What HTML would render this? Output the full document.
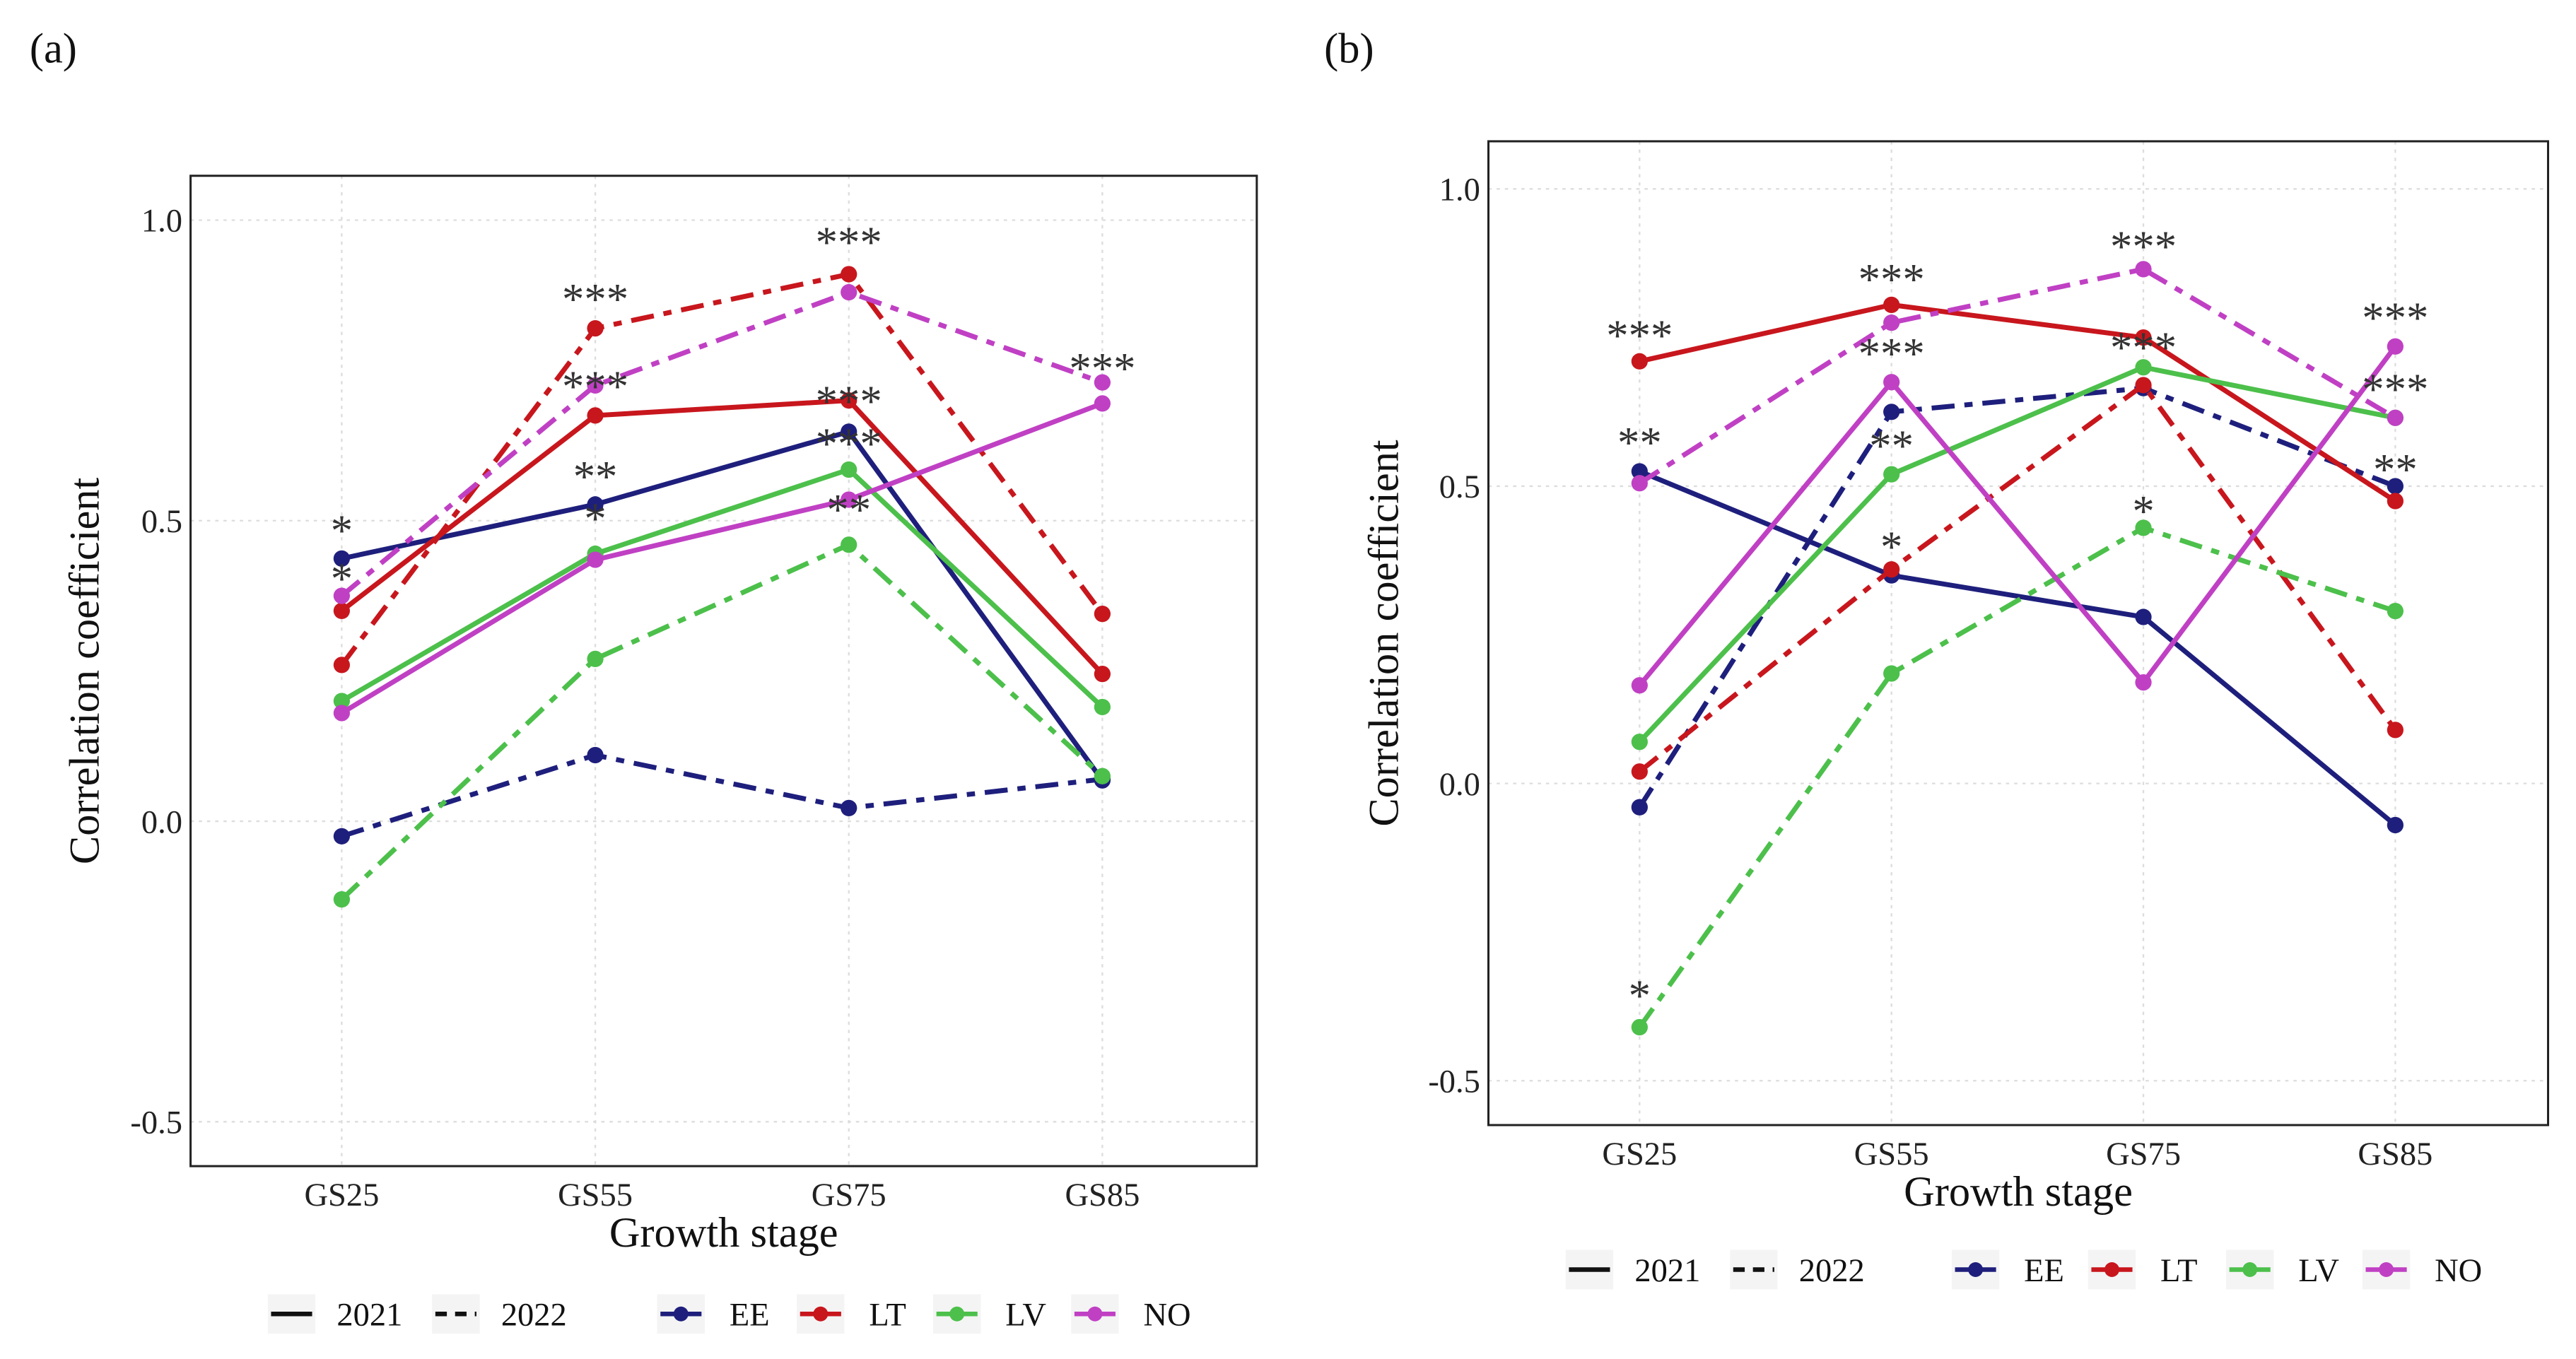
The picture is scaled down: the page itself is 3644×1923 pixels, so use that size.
<!DOCTYPE html>
<html><head><meta charset="utf-8"><style>
html,body{margin:0;padding:0;background:#fff}
svg{display:block}
text{font-family:"Liberation Serif",serif}
</style></head><body>
<svg id="fig" width="3644" height="1923" viewBox="0 0 1568 827.4" xmlns="http://www.w3.org/2000/svg"></svg>
<script>
const categories = ["GS25","GS55","GS75","GS85"];
const seriesNames = ["EE","LT","LV","NO"];
const yTicks = [-0.5,0.0,0.5,1.0];
const yTickLabels = ["-0.5","0.0","0.5","1.0"];
// Panel (a)
const aEE2021 = [0.437,0.527,0.648,0.068];
const aEE2022 = [-0.025,0.11,0.022,0.07];
const aLT2021 = [0.35,0.675,0.70,0.245];
const aLT2022 = [0.26,0.82,0.91,0.345];
const aLV2021 = [0.20,0.445,0.585,0.19];
const aLV2022 = [-0.13,0.27,0.46,0.075];
const aNO2021 = [0.18,0.435,0.535,0.695];
const aNO2022 = [0.375,0.725,0.88,0.73];
const aStarText = ["*","*","***","***","**","*","***","***","***","**","***"];
const aStarCat = [0,0,1,1,1,1,2,2,2,2,3];
const aStarVal = [0.5,0.42,0.885,0.74,0.59,0.52,0.98,0.715,0.645,0.535,0.77];
// Panel (b)
const bEE2021 = [0.525,0.35,0.28,-0.07];
const bEE2022 = [-0.04,0.625,0.665,0.50];
const bLT2021 = [0.71,0.805,0.75,0.475];
const bLT2022 = [0.02,0.36,0.67,0.09];
const bLV2021 = [0.07,0.52,0.70,0.615];
const bLV2022 = [-0.41,0.185,0.43,0.29];
const bNO2021 = [0.165,0.675,0.17,0.735];
const bNO2022 = [0.505,0.775,0.865,0.615];
const bStarText = ["***","**","*","***","***","**","*","***","***","*","***","***","**"];
const bStarCat = [0,0,0,1,1,1,1,2,2,2,3,3,3];
const bStarVal = [0.77,0.59,-0.34,0.865,0.74,0.585,0.415,0.92,0.75,0.475,0.80,0.68,0.545];

const colors = {EE:"#1e1f7c",LT:"#c8161d",LV:"#4cc04b",NO:"#c040c4"};
const NS="http://www.w3.org/2000/svg";
const svg=document.getElementById('fig');
function mk(tag,attrs,parent,txt){const e=document.createElementNS(NS,tag);for(const k in attrs)e.setAttribute(k,attrs[k]);if(txt!==undefined)e.textContent=txt;(parent||svg).appendChild(e);return e;}

function panel(cfg){
  const g=mk('g',{});
  
  
  const {x0,x1,yt,yb,cx,y1,yn1}=cfg;
  const ys=v=>yn1+(v+0.5)*(y1-yn1)/1.5;
  const xs=i=>cx[0]+i*(cx[3]-cx[0])/3;
  const lbl=mk('text',{x:cfg.lx,y:38,'font-size':26,fill:'#111'},svg,'('+cfg.id+')');
  
  
  yTicks.forEach(t=>{const l=mk('line',{x1:x0,x2:x1,y1:ys(t),y2:ys(t),stroke:'#ddd','stroke-width':1,'stroke-dasharray':'2,3'},g);
    });
  categories.forEach((c,i)=>{const l=mk('line',{x1:xs(i),x2:xs(i),y1:yt,y2:yb,stroke:'#ddd','stroke-width':1,'stroke-dasharray':'2,3'},g);
    });
  const box=mk('rect',{x:x0,y:yt,width:x1-x0,height:yb-yt,fill:'none',stroke:'#222','stroke-width':1.3},g);
  
  yTicks.forEach((t,i)=>{const tx=mk('text',{x:x0-5,y:ys(t)+7,'font-size':20,'text-anchor':'end',fill:'#222'},g,yTickLabels[i]);
    });
  categories.forEach((c,i)=>{const tx=mk('text',{x:xs(i),y:yb+24,'font-size':20,'text-anchor':'middle',fill:'#222'},g,c);
    });
  const xt=mk('text',{x:(x0+x1)/2,y:yb+49,'font-size':26,'text-anchor':'middle',fill:'#111'},g,'Growth stage');
  
  const ymid=(yt+yb)/2;
  const yt2=mk('text',{x:cfg.ytx,y:ymid,'font-size':26,'text-anchor':'middle',fill:'#111',transform:`rotate(-90 ${cfg.ytx} ${ymid})`},g,'Correlation coefficient');
  
  cfg.series.forEach(s=>{
    const pts=s.vals.map((v,i)=>xs(i)+','+ys(v)).join(' ');
    const pl=mk('polyline',{points:pts,fill:'none',stroke:colors[s.name],'stroke-width':3,'stroke-dasharray':s.year==='2022'?'14,6,5,6':'none','stroke-linejoin':'round'},g);
    
    s.vals.forEach((v,i)=>{const c=mk('circle',{cx:xs(i),cy:ys(v),r:5,fill:colors[s.name]},g);
      });
  });
  cfg.starText.forEach((t,k)=>{const tx=mk('text',{x:xs(cfg.starCat[k]),y:ys(cfg.starVal[k])+15,'font-size':27,'text-anchor':'middle',fill:'#333'},g,t);
    });
  const L=cfg.leg, ly=L.y;
  const lg=mk('g',{},g);
  
  [['2021','none',L.x[0]],['2022','7,5',L.x[1]]].forEach(([yr,da,x])=>{
    mk('rect',{x:x-2,y:ly-12,width:29,height:24,fill:'#f4f4f4'},lg);
    const l=mk('line',{x1:x,x2:x+25,y1:ly,y2:ly,stroke:'#111','stroke-width':2.8,'stroke-dasharray':da},lg);
    
    const t=mk('text',{x:x+40,y:ly+7,'font-size':20,fill:'#111'},lg,yr);
    
  });
  seriesNames.forEach((n,i)=>{const x=L.x[2+i];
    mk('rect',{x:x-2,y:ly-12,width:29,height:24,fill:'#f4f4f4'},lg);
    const l=mk('line',{x1:x,x2:x+25,y1:ly,y2:ly,stroke:colors[n],'stroke-width':2.8},lg);
    
    const c=mk('circle',{cx:x+12.5,cy:ly,r:4.5,fill:colors[n]},lg);
    
    const t=mk('text',{x:x+42,y:ly+7,'font-size':20,fill:'#111'},lg,n);
    
  });
}
panel({id:'a',lx:18,x0:116,x1:765,yt:107,yb:710,cx:[208,0,0,671],y1:134,yn1:683,ytx:60,
  series:[{name:'EE',year:'2021',vals:aEE2021},{name:'EE',year:'2022',vals:aEE2022},
          {name:'LT',year:'2021',vals:aLT2021},{name:'LT',year:'2022',vals:aLT2022},
          {name:'LV',year:'2021',vals:aLV2021},{name:'LV',year:'2022',vals:aLV2022},
          {name:'NO',year:'2021',vals:aNO2021},{name:'NO',year:'2022',vals:aNO2022}],
  starText:aStarText,starCat:aStarCat,starVal:aStarVal,
  leg:{y:800,x:[165,265,402,487,570,654]}});
panel({id:'b',lx:806,x0:906,x1:1551,yt:86,yb:685,cx:[998,0,0,1458],y1:115,yn1:658,ytx:851,
  series:[{name:'EE',year:'2021',vals:bEE2021},{name:'EE',year:'2022',vals:bEE2022},
          {name:'LT',year:'2021',vals:bLT2021},{name:'LT',year:'2022',vals:bLT2022},
          {name:'LV',year:'2021',vals:bLV2021},{name:'LV',year:'2022',vals:bLV2022},
          {name:'NO',year:'2021',vals:bNO2021},{name:'NO',year:'2022',vals:bNO2022}],
  starText:bStarText,starCat:bStarCat,starVal:bStarVal,
  leg:{y:773,x:[955,1055,1190,1273,1357,1440]}});
</script>
</body></html>
